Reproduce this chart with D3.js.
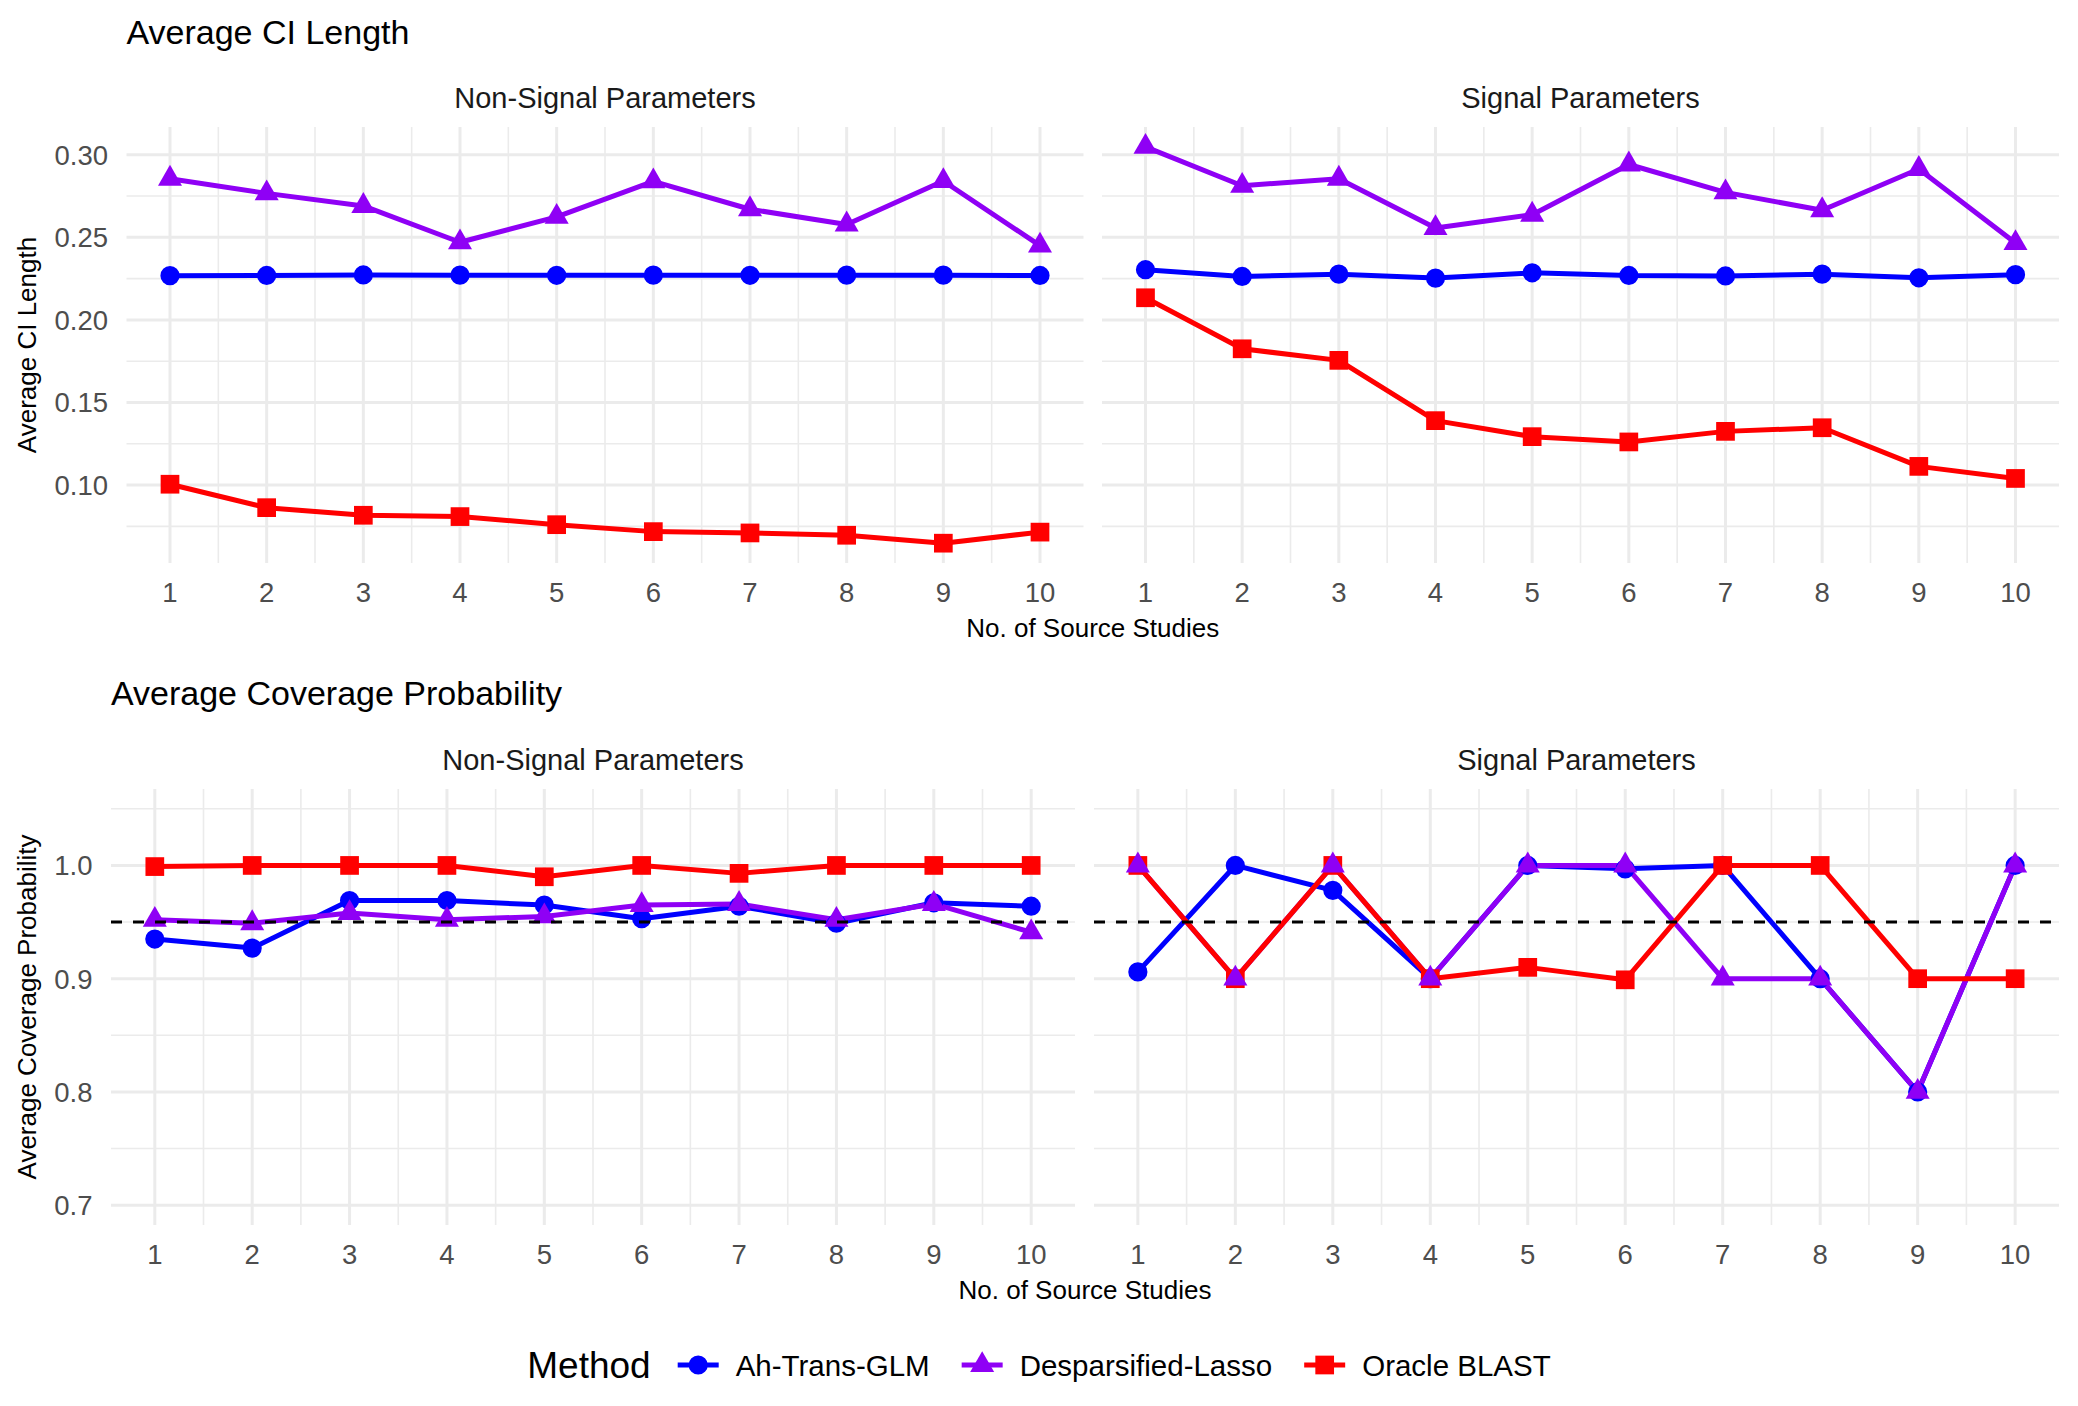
<!DOCTYPE html>
<meta charset="utf-8">
<style>
body { margin: 0; background: #fff; }
text { font-family: "Liberation Sans", Arial, sans-serif; }
.grid-major { stroke: #ebebeb; stroke-width: 3; }
.grid-minor { stroke: #ebebeb; stroke-width: 1.6; }
.tick { fill: #4d4d4d; font-size: 27.5px; }
.strip { fill: #1a1a1a; font-size: 29px; }
.ptitle { fill: #000; font-size: 34px; }
.atitle { fill: #000; font-size: 26px; }
.ltitle { fill: #000; font-size: 37px; }
.llabel { fill: #000; font-size: 29.5px; }
</style>
<svg width="2078" height="1406"></svg>
<script src="https://d3js.org/d3.v7.min.js"></script>
<script>

var sources = [1, 2, 3, 4, 5, 6, 7, 8, 9, 10];
var methods = ["Ah-Trans-GLM", "Desparsified-Lasso", "Oracle BLAST"];

// average CI length, non-signal parameters
var ciNonAh = [0.2268, 0.2269, 0.2272, 0.2271, 0.2270, 0.2271, 0.2270, 0.2271, 0.2271, 0.2269];
var ciNonDl = [0.2855, 0.2766, 0.2690, 0.2470, 0.2624, 0.2839, 0.2670, 0.2578, 0.2841, 0.2450];
var ciNonOb = [0.1005, 0.0863, 0.0817, 0.0809, 0.0760, 0.0718, 0.0710, 0.0696, 0.0648, 0.0715];
// average CI length, signal parameters
var ciSigAh = [0.2304, 0.2263, 0.2277, 0.2253, 0.2285, 0.2269, 0.2266, 0.2277, 0.2255, 0.2274];
var ciSigDl = [0.3048, 0.2812, 0.2855, 0.2556, 0.2637, 0.2941, 0.2772, 0.2664, 0.2914, 0.2465];
var ciSigOb = [0.2134, 0.1825, 0.1755, 0.1390, 0.1293, 0.1261, 0.1325, 0.1347, 0.1113, 0.1040];
// average coverage probability, non-signal parameters
var covNonAh = [0.935, 0.927, 0.969, 0.969, 0.965, 0.953, 0.964, 0.949, 0.967, 0.964];
var covNonDl = [0.952, 0.949, 0.958, 0.952, 0.955, 0.965, 0.966, 0.952, 0.966, 0.941];
var covNonOb = [0.999, 1.000, 1.000, 1.000, 0.990, 1.000, 0.993, 1.000, 1.000, 1.000];
// average coverage probability, signal parameters
var covSigAh = [0.906, 1.000, 0.978, 0.900, 1.000, 0.997, 1.000, 0.900, 0.800, 1.000];
var covSigDl = [1.000, 0.900, 1.000, 0.900, 1.000, 1.000, 0.900, 0.900, 0.800, 1.000];
var covSigOb = [1.000, 0.900, 1.000, 0.900, 0.910, 0.899, 1.000, 1.000, 0.900, 0.900];

var ciBreaks = [0.10, 0.15, 0.20, 0.25, 0.30];
var covBreaks = [0.7, 0.8, 0.9, 1.0];
var covLimits = [0.7, 1.05];
var nominal = 0.95;

var svg = d3.select("svg");

var color = d3.scaleOrdinal().domain(methods).range(["#0000ff", "#8f00f5", "#ff0000"]);
var shape = d3.scaleOrdinal().domain(methods).range([d3.symbolCircle, d3.symbolTriangle, d3.symbolSquare]);
var symSize = d3.scaleOrdinal().domain(methods).range([290, 250, 350]);

function pad(ext) {
  var e = (ext[1] - ext[0]) * 0.05;
  return [ext[0] - e, ext[1] + e];
}

function minorOf(breaks, domain) {
  var step = breaks[1] - breaks[0], out = [];
  for (var i = -1; i < breaks.length; i++) {
    var v = breaks[0] + (i + 0.5) * step;
    if (v >= domain[0] && v <= domain[1]) out.push(v);
  }
  return out;
}

var rows = [
  {
    title: "Average CI Length", titleY: 44, top: 127, bottom: 563,
    cols: [[126.5, 1083.5], [1102, 2059]],
    domain: pad(d3.extent([].concat(ciNonAh, ciNonDl, ciNonOb, ciSigAh, ciSigDl, ciSigOb))),
    breaks: ciBreaks, fmt: d3.format(".2f"), hline: null,
    panels: [
      { strip: "Non-Signal Parameters", series: [ciNonAh, ciNonDl, ciNonOb] },
      { strip: "Signal Parameters", series: [ciSigAh, ciSigDl, ciSigOb] }
    ]
  },
  {
    title: "Average Coverage Probability", titleY: 705, top: 789, bottom: 1225,
    cols: [[111, 1075], [1094, 2059]],
    domain: pad(covLimits),
    breaks: covBreaks, fmt: d3.format(".1f"), hline: nominal,
    panels: [
      { strip: "Non-Signal Parameters", series: [covNonAh, covNonDl, covNonOb] },
      { strip: "Signal Parameters", series: [covSigAh, covSigDl, covSigOb] }
    ]
  }
];

var xDomain = pad([sources[0], sources[sources.length - 1]]);
var xMinor = minorOf(sources, xDomain);

rows.forEach(function(row) {
  var y = d3.scaleLinear().domain(row.domain).range([row.bottom, row.top]);
  var yMinor = minorOf(row.breaks, row.domain);

  row.panels.forEach(function(p, pi) {
    var x = d3.scaleLinear().domain(xDomain).range(row.cols[pi]);
    var g = svg.append("g");

    g.selectAll(".hm").data(yMinor).enter().append("line")
      .attr("class", "grid-minor")
      .attr("x1", x.range()[0]).attr("x2", x.range()[1])
      .attr("y1", y).attr("y2", y);
    g.selectAll(".vm").data(xMinor).enter().append("line")
      .attr("class", "grid-minor")
      .attr("x1", x).attr("x2", x)
      .attr("y1", row.top).attr("y2", row.bottom);
    g.selectAll(".hM").data(row.breaks).enter().append("line")
      .attr("class", "grid-major")
      .attr("x1", x.range()[0]).attr("x2", x.range()[1])
      .attr("y1", y).attr("y2", y);
    g.selectAll(".vM").data(sources).enter().append("line")
      .attr("class", "grid-major")
      .attr("x1", x).attr("x2", x)
      .attr("y1", row.top).attr("y2", row.bottom);

    // strip
    g.append("text").attr("class", "strip")
      .attr("x", (x.range()[0] + x.range()[1]) / 2)
      .attr("y", row.top - 19)
      .attr("text-anchor", "middle")
      .text(p.strip);

    // x ticks
    g.selectAll(".xt").data(sources).enter().append("text")
      .attr("class", "tick")
      .attr("x", x).attr("y", row.bottom + 39)
      .attr("text-anchor", "middle")
      .text(function(d) { return d; });

    // y ticks on first panel only
    if (pi === 0) {
      g.selectAll(".yt").data(row.breaks).enter().append("text")
        .attr("class", "tick")
        .attr("x", x.range()[0] - 18.5)
        .attr("y", function(d) { return y(d) + 10; })
        .attr("text-anchor", "end")
        .text(row.fmt);
    }

    var line = d3.line()
      .x(function(d, i) { return x(sources[i]); })
      .y(function(d) { return y(d); });

    // lines: blue, purple, red
    [0, 1, 2].forEach(function(m) {
      g.append("path")
        .attr("d", line(p.series[m]))
        .attr("fill", "none")
        .attr("stroke", color(methods[m]))
        .attr("stroke-width", 5)
        .attr("stroke-linejoin", "round");
    });

    // points: blue, red, purple
    [0, 2, 1].forEach(function(m) {
      g.selectAll(null).data(p.series[m]).enter().append("path")
        .attr("transform", function(d, i) { return "translate(" + x(sources[i]) + "," + y(d) + ")"; })
        .attr("d", d3.symbol().type(shape(methods[m])).size(symSize(methods[m])))
        .attr("fill", color(methods[m]));
    });

    if (row.hline !== null) {
      g.append("line")
        .attr("x1", x.range()[0]).attr("x2", x.range()[1])
        .attr("y1", y(row.hline)).attr("y2", y(row.hline))
        .attr("stroke", "#000").attr("stroke-width", 3)
        .attr("stroke-dasharray", "11,11");
    }
  });

  var left = row.cols[0][0], right = row.cols[1][1];

  svg.append("text").attr("class", "ptitle")
    .attr("x", left).attr("y", row.titleY)
    .text(row.title);

  svg.append("text").attr("class", "atitle")
    .attr("x", (left + right) / 2).attr("y", row.bottom + 74)
    .attr("text-anchor", "middle")
    .text("No. of Source Studies");

  svg.append("text").attr("class", "atitle")
    .attr("transform", "translate(36," + (row.top + row.bottom) / 2 + ") rotate(-90)")
    .attr("text-anchor", "middle")
    .text(row.title);
});

// legend
var leg = svg.append("g");
var ly = 1365;
var lt = leg.append("text").attr("class", "ltitle").attr("y", ly + 13).text("Method");
var cx = lt.node().getComputedTextLength() + 27;
methods.forEach(function(m, i) {
  leg.append("line")
    .attr("x1", cx).attr("x2", cx + 41).attr("y1", ly).attr("y2", ly)
    .attr("stroke", color(m)).attr("stroke-width", 5);
  leg.append("path")
    .attr("transform", "translate(" + (cx + 20.5) + "," + ly + ")")
    .attr("d", d3.symbol().type(shape(m)).size(symSize(m)))
    .attr("fill", color(m));
  var t = leg.append("text").attr("class", "llabel")
    .attr("x", cx + 58).attr("y", ly + 10.5).text(m);
  cx += 58 + t.node().getComputedTextLength() + 32;
});
var legW = cx - 32;
leg.attr("transform", "translate(" + (1039 - legW / 2) + ",0)");

</script>
